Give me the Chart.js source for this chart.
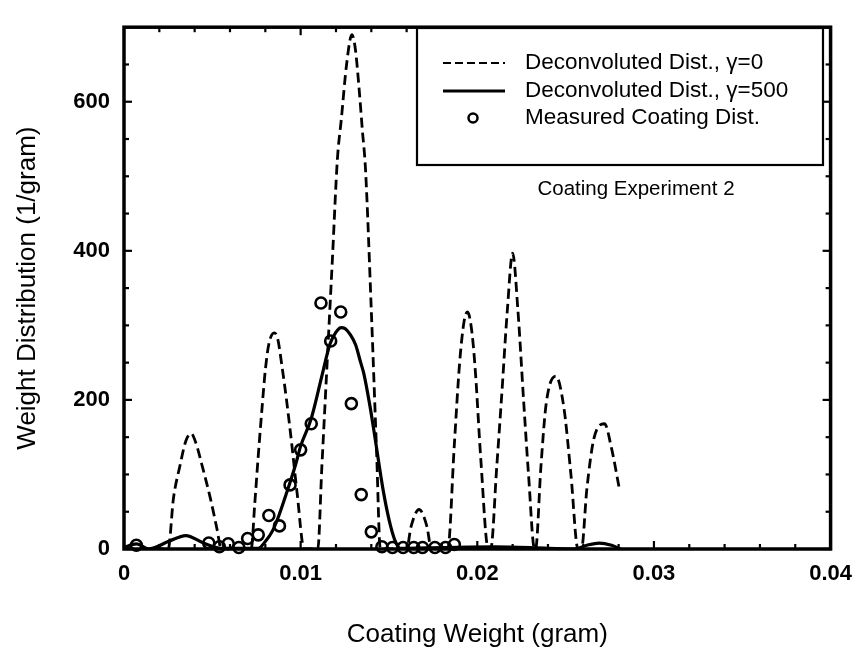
<!DOCTYPE html>
<html>
<head>
<meta charset="utf-8">
<script src="https://cdn.jsdelivr.net/npm/chart.js@4.4.0/dist/chart.umd.min.js"></script>
<style>
  html, body { margin: 0; padding: 0; background: #fff; }
  canvas { display: block; }
</style>
</head>
<body>
<canvas id="c" width="864" height="650"></canvas>
<script>
// ---- data ----
const dashX = [0, 0.0025, 0.0028, 0.00317, 0.0035, 0.0038, 0.0041, 0.00442, 0.00489, 0.00528, 0.0055,
  0.0072, 0.0074, 0.0076, 0.0078, 0.0080, 0.0082, 0.0085, 0.0087, 0.00895, 0.0092, 0.0095, 0.0098, 0.0102,
  0.01097, 0.0112, 0.0115, 0.0118, 0.01208, 0.0123, 0.0126, 0.0129, 0.0131, 0.0133, 0.0135, 0.01367, 0.0140, 0.0143, 0.01451,
  0.0160, 0.01625, 0.0167, 0.01715, 0.0174,
  0.01833, 0.0187, 0.0190, 0.01925, 0.01945, 0.0197, 0.0199, 0.0202, 0.02062,
  0.02076, 0.0211, 0.02137, 0.0217, 0.0220, 0.0223, 0.02263, 0.0229, 0.02324,
  0.0233, 0.0236, 0.0239, 0.02445, 0.0249, 0.0253, 0.0257,
  0.0259, 0.0262, 0.0266, 0.0272, 0.0276, 0.02807];
const dashY = [0, 0, 68, 112, 145, 155, 140, 112, 68, 25, 0,
  0, 60, 125, 185, 240, 275, 290, 282, 244, 200, 140, 75, 0,
  0, 110, 250, 390, 523, 576, 650, 690, 670, 620, 560, 510, 320, 130, 0,
  0, 30, 53, 30, 0,
  0, 140, 250, 305, 318, 290, 235, 120, 0,
  0, 110, 202, 320, 397, 320, 196, 100, 0,
  0, 110, 195, 232, 190, 100, 0,
  0, 80, 148, 168, 135, 77];

const solidX = [0, 0.0007, 0.0014, 0.0025, 0.0035, 0.0045, 0.0055, 0.0065, 0.0076, 0.0080, 0.0084, 0.00877,
  0.0092, 0.0097, 0.0100, 0.0106, 0.0112, 0.01166, 0.0120, 0.0123, 0.0125, 0.0128, 0.01311, 0.0134, 0.01358,
  0.0139, 0.01414, 0.0147, 0.0151, 0.0154, 0.01563, 0.0180, 0.0210, 0.0240, 0.0255, 0.0262, 0.0269, 0.0276, 0.0281];
const solidY = [2, 7, 0, 10, 18, 8, 1, 1, 1, 10, 24, 45,
  75, 112, 138, 175, 232, 275, 291, 297, 296, 288, 274, 250, 235,
  195, 160, 75, 30, 8, 1, 2, 3, 1, 0, 5, 8, 5, 0];

const measX = [0.0007, 0.0048, 0.0054, 0.0059, 0.0065, 0.0070, 0.0076, 0.0082, 0.0088, 0.0094, 0.0100, 0.0106,
  0.01115, 0.0117, 0.01227, 0.01287, 0.01343, 0.0140, 0.0146, 0.0152, 0.0158, 0.0164, 0.0169, 0.0176, 0.0182, 0.0187];
const measY = [5, 8, 3, 7, 2, 14, 19, 45, 31, 86, 133, 168,
  330, 279, 318, 195, 73, 23, 3, 2, 2, 2, 2, 2, 2, 6];

const xTicks = [0, 0.01, 0.02, 0.03, 0.04];
const yTicks = [0, 200, 400, 600];
const xMinorStep = 0.002;
const yMinorStep = 50;
const legendLabels = ['Deconvoluted Dist., \u03B3=0', 'Deconvoluted Dist., \u03B3=500', 'Measured Coating Dist.'];
const noteText = 'Coating Experiment 2';
const xTitle = 'Coating Weight (gram)';
const yTitle = 'Weight Distribution (1/gram)';

const FONT = '"Liberation Sans", Arial, Helvetica, sans-serif';

const pts = (xs, ys) => xs.map((x, i) => ({ x: x, y: ys[i] }));

const framePlugin = {
  id: 'frameTicksLegend',
  afterDatasetsDraw(chart) {
    const { ctx, chartArea: a, scales: { x, y } } = chart;
    ctx.save();
    ctx.strokeStyle = '#000';
    ctx.lineCap = 'butt';
    const tick = (px, py, dx, dy) => { ctx.beginPath(); ctx.moveTo(px, py); ctx.lineTo(px + dx, py + dy); ctx.stroke(); };
    ctx.lineWidth = 2.2;
    for (let v = 0; v <= 0.04 + 1e-9; v += xMinorStep) {
      const px = x.getPixelForValue(v);
      const major = xTicks.some(t => Math.abs(t - v) < 1e-9);
      const len = major ? 8 : 5;
      tick(px, a.bottom, 0, -len);
      tick(px, a.top, 0, len);
    }
    for (let v = 0; v <= 700 + 1e-9; v += yMinorStep) {
      const py = y.getPixelForValue(v);
      const major = yTicks.includes(v);
      const len = major ? 8 : 5;
      tick(a.left, py, len, 0);
      tick(a.right, py, -len, 0);
    }
    ctx.lineWidth = 3.5;
    ctx.strokeRect(a.left, a.top, a.right - a.left, a.bottom - a.top);

    // legend box
    const bx = 417, by = 28, bw = 406, bh = 137;
    ctx.fillStyle = '#fff';
    ctx.fillRect(bx, by, bw, bh);
    ctx.lineWidth = 2.2;
    ctx.strokeRect(bx, by, bw, bh);
    const rows = [63, 91, 118];
    const ds = chart.data.datasets;
    ctx.lineWidth = 2.2;
    ctx.setLineDash([8, 4]);
    ctx.beginPath(); ctx.moveTo(443, rows[0]); ctx.lineTo(505, rows[0]); ctx.stroke();
    ctx.setLineDash([]);
    ctx.lineWidth = ds[1].borderWidth;
    ctx.beginPath(); ctx.moveTo(443, rows[1]); ctx.lineTo(505, rows[1]); ctx.stroke();
    ctx.lineWidth = 2.5;
    ctx.beginPath(); ctx.arc(473, rows[2], 4.5, 0, Math.PI * 2); ctx.stroke();
    ctx.fillStyle = '#000';
    ctx.font = '22.5px ' + FONT;
    ctx.textAlign = 'left';
    ctx.textBaseline = 'middle';
    legendLabels.forEach((t, i) => ctx.fillText(t, 525, rows[i]));
    ctx.font = '20.5px ' + FONT;
    ctx.textAlign = 'center';
    ctx.fillText(noteText, 636, 189);
    ctx.restore();
  }
};

new Chart(document.getElementById('c'), {
  type: 'scatter',
  data: {
    datasets: [
      { label: legendLabels[0], data: pts(dashX, dashY), showLine: true, borderColor: '#000', borderWidth: 2.8,
        borderDash: [10, 5], pointRadius: 0, cubicInterpolationMode: 'monotone', fill: false },
      { label: legendLabels[1], data: pts(solidX, solidY), showLine: true, borderColor: '#000', borderWidth: 3.2,
        pointRadius: 0, cubicInterpolationMode: 'monotone', fill: false },
      { label: legendLabels[2], data: pts(measX, measY), showLine: false, pointRadius: 5.5, pointBorderWidth: 2.6,
        pointBorderColor: '#000', pointBackgroundColor: 'rgba(0,0,0,0)', clip: 10 }
    ]
  },
  options: {
    responsive: false,
    animation: false,
    events: [],
    layout: { padding: { left: 0, right: 25, top: 15, bottom: 0 } },
    plugins: { legend: { display: false }, tooltip: { enabled: false } },
    scales: {
      x: {
        type: 'linear', min: 0, max: 0.04,
        afterBuildTicks: s => { s.ticks = xTicks.map(v => ({ value: v })); },
        afterFit: s => { s.height = 101; },
        grid: { display: false, drawTicks: false },
        border: { display: false },
        ticks: { color: '#000', padding: 12, maxRotation: 0, font: { family: FONT, size: 22, weight: 'bold' },
          callback: v => String(v) },
        title: { display: true, text: xTitle, color: '#000', padding: { top: 0, bottom: 0 },
          font: { family: FONT, size: 26 } }
      },
      y: {
        type: 'linear', min: 0, max: 700,
        afterBuildTicks: s => { s.ticks = yTicks.map(v => ({ value: v })); },
        afterFit: s => { s.width = 124; },
        grid: { display: false, drawTicks: false },
        border: { display: false },
        ticks: { color: '#000', padding: 14, font: { family: FONT, size: 22, weight: 'bold' },
          callback: v => String(v) },
        title: { display: true, text: yTitle, color: '#000', padding: { top: 12, bottom: 0 },
          font: { family: FONT, size: 26 } }
      }
    }
  },
  plugins: [framePlugin]
});
</script>
</body>
</html>
